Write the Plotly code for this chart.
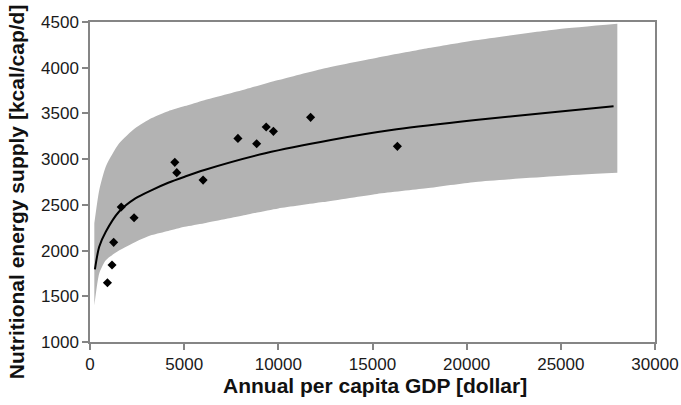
import plotly.graph_objects as go

# Uncertainty band
band_x = [230, 490, 840, 1540, 2410, 3280, 4150, 5030, 6070, 8260, 10000, 12360, 15240, 17860, 20470, 24840, 28000]
band_upper = [2300, 2660, 2920, 3170, 3340, 3450, 3525, 3580, 3645, 3765, 3865, 3990, 4110, 4210, 4300, 4420, 4480]
band_lower = [1400, 1750, 1895, 2000, 2095, 2170, 2215, 2260, 2300, 2390, 2460, 2530, 2620, 2681, 2750, 2815, 2850]

# Fitted curve
fit_x = [262, 489, 838, 1536, 2409, 3281, 4154, 5027, 6074, 9304, 12792, 16284, 20473, 24835, 27800]
fit_y = [1794, 2042, 2206, 2425, 2571, 2662, 2742, 2808, 2881, 3064, 3209, 3326, 3428, 3519, 3578]

# Observations
obs_x = [926, 1169, 1257, 1658, 2340, 4503, 4608, 6005, 7854, 8849, 9356, 9739, 11713, 16321]
obs_y = [1648, 1842, 2090, 2476, 2359, 2965, 2852, 2771, 3227, 3169, 3351, 3304, 3457, 3140]

x_ticks = [0, 5000, 10000, 15000, 20000, 25000, 30000]
y_ticks = [1000, 1500, 2000, 2500, 3000, 3500, 4000, 4500]

FONT = "Liberation Sans, Arial, sans-serif"
BAND = "#b3b3b3"

fig = go.Figure()
fig.add_trace(go.Scatter(
    x=band_x, y=band_lower, mode="lines",
    line=dict(width=0, color=BAND, shape="spline", smoothing=0.6),
    hoverinfo="skip", showlegend=False))
fig.add_trace(go.Scatter(
    x=band_x, y=band_upper, mode="lines", fill="tonexty", fillcolor=BAND,
    line=dict(width=0, color=BAND, shape="spline", smoothing=0.6),
    hoverinfo="skip", showlegend=False))
fig.add_trace(go.Scatter(
    x=fit_x, y=fit_y, mode="lines",
    line=dict(color="black", width=2, shape="spline", smoothing=0.8),
    showlegend=False))
fig.add_trace(go.Scatter(
    x=obs_x, y=obs_y, mode="markers",
    marker=dict(symbol="diamond", size=7, color="black"),
    showlegend=False))

axis_common = dict(
    showgrid=False, zeroline=False, showline=True, linecolor="#858585", linewidth=1.5,
    mirror=True, ticks="outside", ticklen=6, tickwidth=1.5, tickcolor="#858585",
    tickfont=dict(family=FONT, size=17, color="#1a1a1a"), ticklabeloverflow="allow",
    automargin=False,
)
fig.update_xaxes(range=[0, 30000], tickvals=x_ticks, ticktext=[str(v) for v in x_ticks], **axis_common)
fig.update_yaxes(range=[1000, 4500], tickvals=y_ticks, ticktext=[str(v) for v in y_ticks], **axis_common)

fig.add_annotation(text="<b>Annual per capita GDP [dollar]</b>", xref="paper", yref="paper",
                   x=0.505, y=-0.135, xanchor="center", yanchor="middle", showarrow=False,
                   font=dict(family=FONT, size=21, color="#111"))
fig.add_annotation(text="<b>Nutritional energy supply [kcal/cap/d]</b>", xref="paper", yref="paper",
                   x=-0.13, y=0.47, xanchor="center", yanchor="middle", textangle=-90, showarrow=False,
                   font=dict(family=FONT, size=21, color="#111"))

fig.update_layout(
    width=681, height=405, margin=dict(l=90, r=26, t=22, b=63),
    plot_bgcolor="white", paper_bgcolor="white",
)
fig.write_html("out.html")
